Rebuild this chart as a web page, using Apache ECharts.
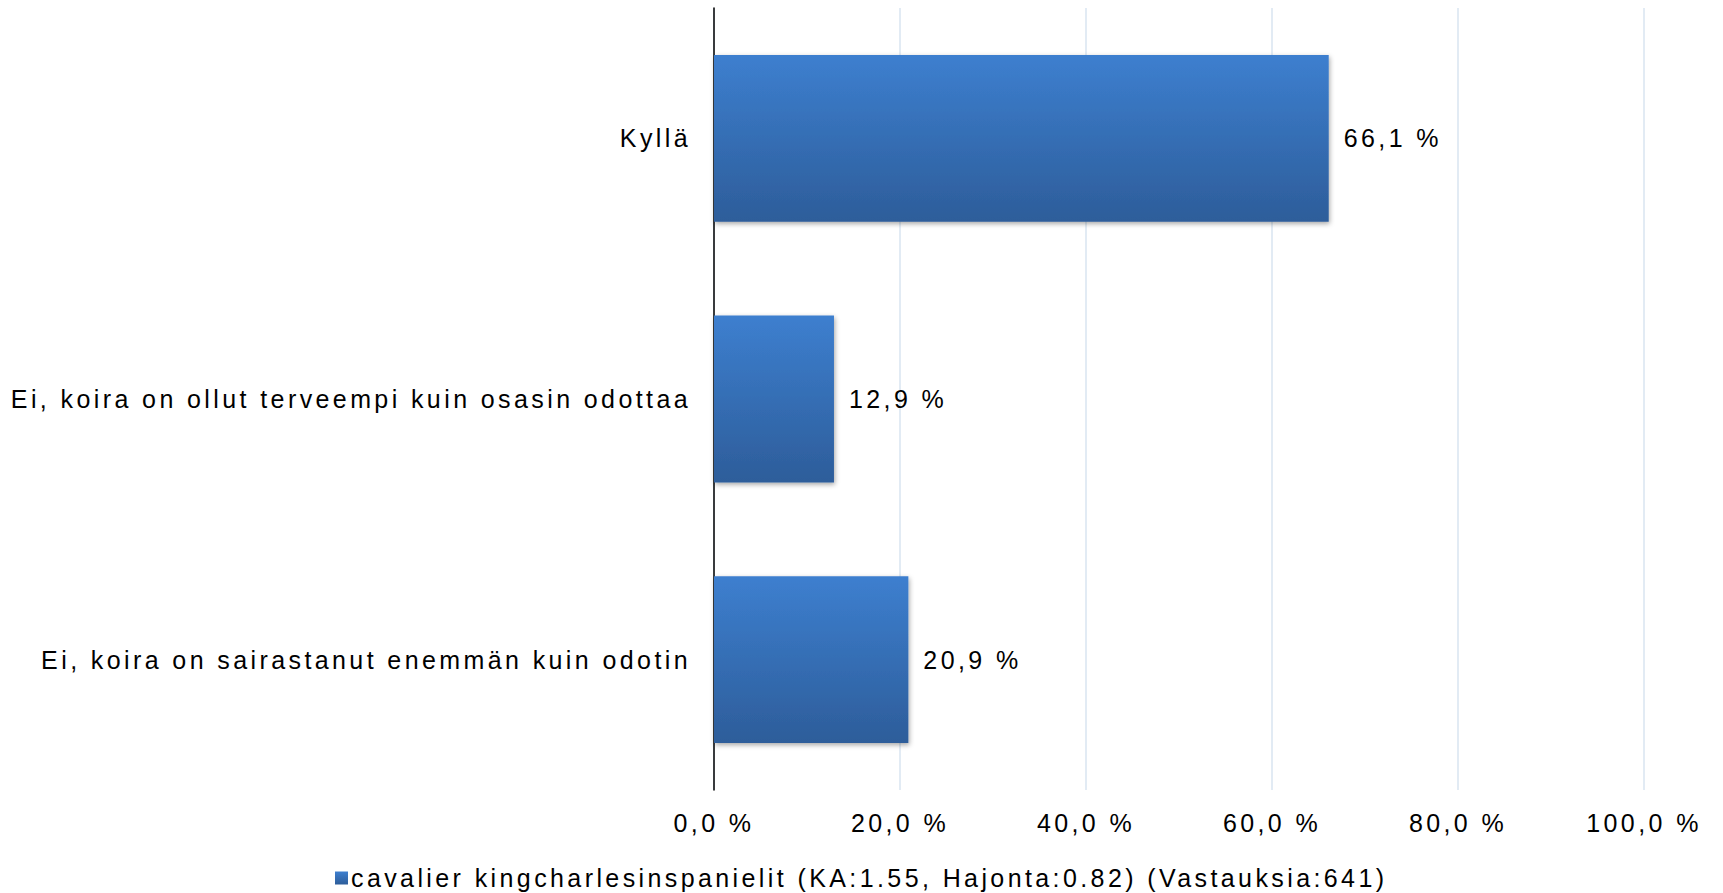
<!DOCTYPE html>
<html>
<head>
<meta charset="utf-8">
<script src="https://cdn.jsdelivr.net/npm/echarts@6/dist/echarts.min.js"></script>
<style>
  html, body { margin: 0; padding: 0; background: #fff; }
  #chart { width: 1723px; height: 893px; letter-spacing: 3.4px; }
</style>
</head>
<body>
<div id="chart"></div>
<script>
// Survey answers, one bar per answer option (share of respondents, %)
const categories = [
  'Kyllä',
  'Ei, koira on ollut terveempi kuin osasin odottaa',
  'Ei, koira on sairastanut enemmän kuin odotin'
];
const values = [66.1, 12.9, 20.9];
const seriesName = 'cavalier kingcharlesinspanielit (KA:1.55, Hajonta:0.82) (Vastauksia:641)';
const axisTicks = [0, 20, 40, 60, 80, 100];

const FONT = "'Liberation Sans', Arial, sans-serif";
const fmtPct = v => v.toFixed(1).replace('.', ',') + ' %';

const barFill = new echarts.graphic.LinearGradient(0, 0, 0, 1, [
  { offset: 0, color: '#3d7fcf' },
  { offset: 1, color: '#2d5d9a' }
]);

const chart = echarts.init(document.getElementById('chart'), null, { renderer: 'svg' });
chart.setOption({
  animation: false,
  backgroundColor: '#ffffff',
  textStyle: { fontFamily: FONT, color: '#000' },
  grid: { left: 714, right: 79, top: 8, bottom: 103, containLabel: false },
  legend: {
    left: 335,
    top: 863,
    itemWidth: 13,
    itemHeight: 13,
    itemGap: 5,
    icon: 'rect',
    padding: 0,
    textStyle: { fontFamily: FONT, fontSize: 25, lineHeight: 30, color: '#000', padding: [0, 0, 0, -2] },
    data: [{ name: seriesName, itemStyle: { color: barFill } }]
  },
  xAxis: {
    type: 'value',
    min: axisTicks[0],
    max: axisTicks[axisTicks.length - 1],
    interval: axisTicks[1] - axisTicks[0],
    axisLine: { show: false },
    axisTick: { show: false },
    axisLabel: {
      margin: 20,
      fontFamily: FONT,
      fontSize: 25,
      color: '#000',
      formatter: v => fmtPct(v)
    },
    splitLine: { show: true, lineStyle: { color: '#d9e4f0', width: 1.5 } }
  },
  yAxis: {
    type: 'category',
    inverse: true,
    data: categories,
    axisLine: { show: true, lineStyle: { color: '#000', width: 1.5 } },
    axisTick: { show: false },
    axisLabel: { margin: 23, fontFamily: FONT, fontSize: 25, color: '#000' },
    splitLine: { show: false }
  },
  series: [{
    name: seriesName,
    type: 'bar',
    data: values,
    barCategoryGap: '36%',
    itemStyle: {
      color: barFill,
      shadowColor: 'rgba(0,0,0,0.35)',
      shadowBlur: 5,
      shadowOffsetX: 1,
      shadowOffsetY: 2
    },
    label: {
      show: true,
      position: 'right',
      distance: 15,
      fontFamily: FONT,
      fontSize: 25,
      color: '#000',
      formatter: p => fmtPct(p.value)
    }
  }]
});
</script>
</body>
</html>
